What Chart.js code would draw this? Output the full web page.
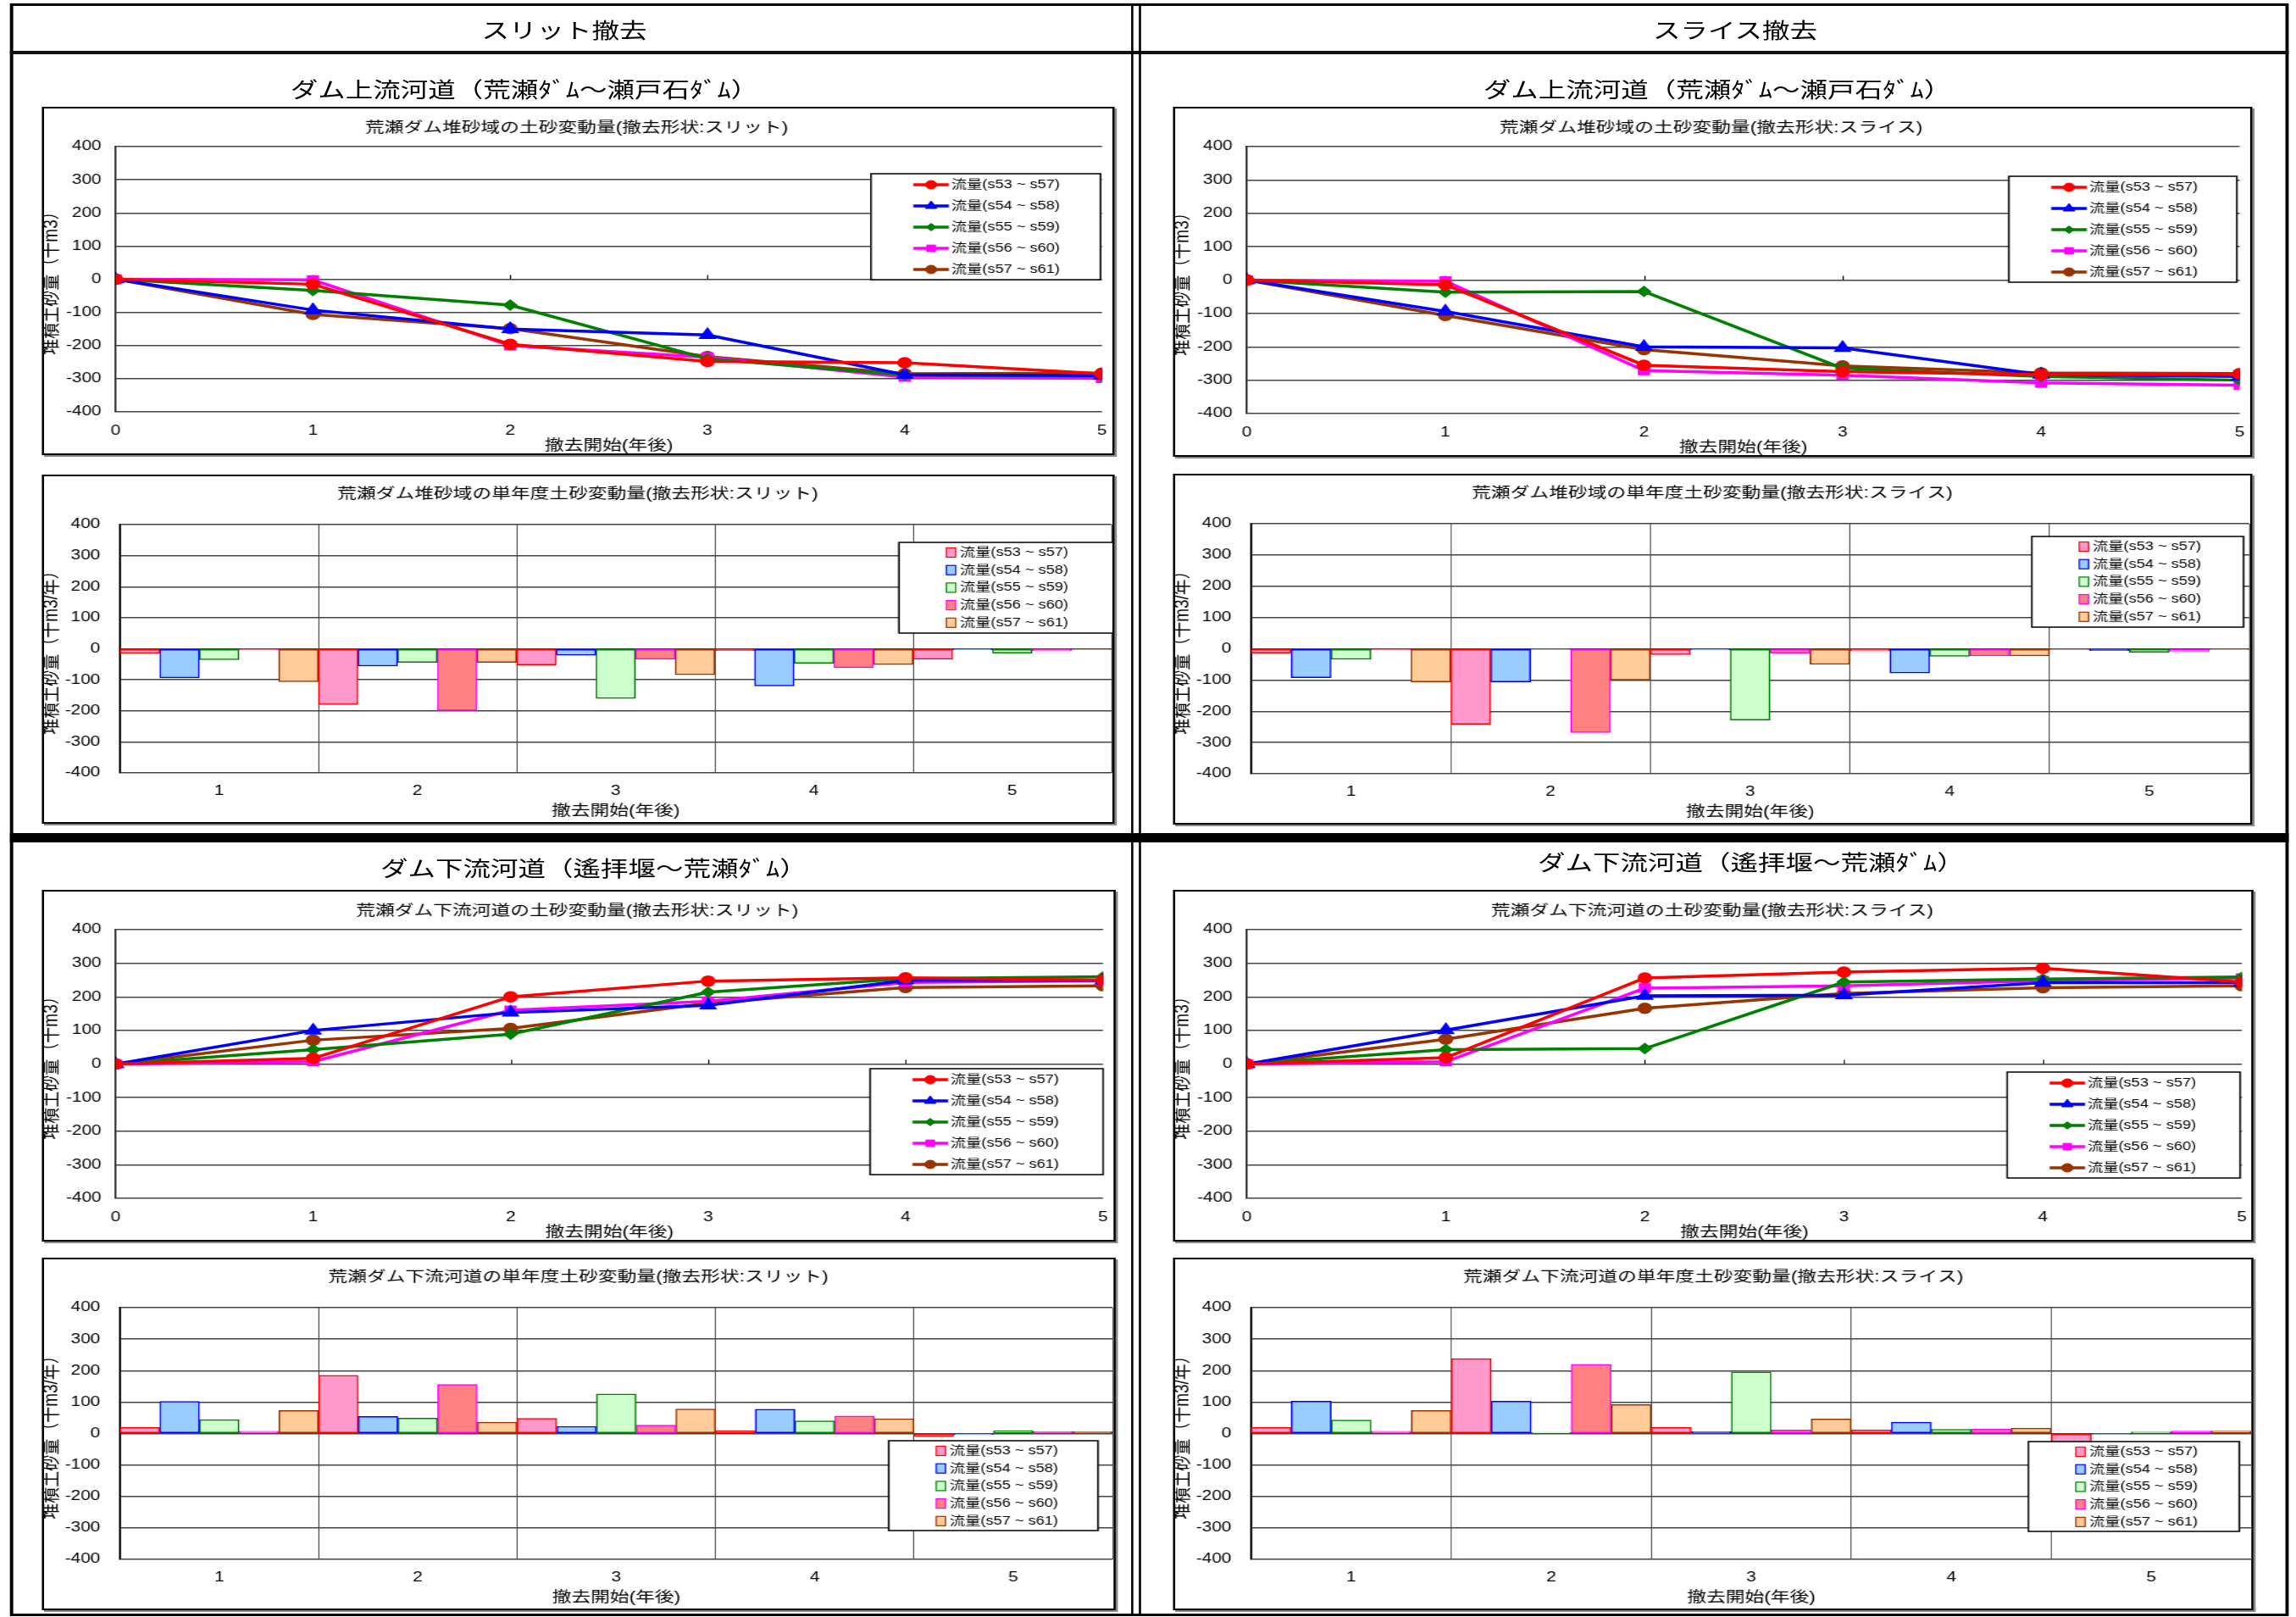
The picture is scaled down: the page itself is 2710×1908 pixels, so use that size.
<!DOCTYPE html>
<html lang="ja">
<head>
<meta charset="utf-8">
<title>荒瀬ダム撤去 土砂変動量</title>
<script src="https://cdn.jsdelivr.net/npm/chart.js@4.4.1/dist/chart.umd.min.js"></script>
<style>
html, body { margin: 0; padding: 0; background: #fff; }
body { width: 2710px; height: 1908px; overflow: hidden; position: relative; }
#page { position: absolute; left: 0; top: 0; height: 1908px; transform-origin: 0 0;
        font-family: 'Noto Sans CJK JP', sans-serif; color: #000; }
canvas { display: block; }
</style>
</head>
<body>
<div id="page"></div>
<script>
// ---- data -------------------------------------------------------------
const seriesLabels = ['流量(s53 ~ s57)', '流量(s54 ~ s58)', '流量(s55 ~ s59)', '流量(s56 ~ s60)', '流量(s57 ~ s61)'];
const lineYears = [0, 1, 2, 3, 4, 5];
const barYears = ['1', '2', '3', '4', '5'];
const yMin = -400, yMax = 400, yStep = 100;

// 荒瀬ダム堆砂域 累計 (スリット)
const upSlitCum = [
  [0, -15, -196, -248, -252, -285],
  [0, -93, -150, -168, -288, -291],
  [0, -34, -78, -240, -289, -292],
  [0, -2, -200, -235, -295, -299],
  [0, -106, -149, -233, -285, -283]
];
// 荒瀬ダム堆砂域 単年度 (スリット)
const upSlitYear = [
  [-15, -180, -52, -6, -34],
  [-94, -56, -21, -120, -3],
  [-35, -44, -160, -47, -14],
  [-3, -199, -34, -61, -7],
  [-106, -44, -84, -51, -2]
];
// 荒瀬ダム堆砂域 累計 (スライス)
const upSliceCum = [
  [0, -14, -255, -274, -283, -281],
  [0, -94, -200, -203, -283, -289],
  [0, -36, -34, -264, -289, -300],
  [0, -3, -271, -285, -308, -315],
  [0, -106, -208, -257, -278, -280]
];
// 荒瀬ダム堆砂域 単年度 (スライス)
const upSliceYear = [
  [-14, -242, -19, -7, -1],
  [-93, -106, -4, -78, -6],
  [-34, -1, -228, -24, -11],
  [-4, -268, -14, -23, -8],
  [-106, -100, -50, -23, -1]
];
// 下流河道 累計 (スリット)
const downSlitCum = [
  [0, 17, 200, 247, 257, 250],
  [0, 100, 153, 175, 249, 249],
  [0, 43, 89, 214, 254, 260],
  [0, 7, 160, 187, 243, 248],
  [0, 71, 106, 181, 228, 233]
];
// 下流河道 単年度 (スリット)
const downSlitYear = [
  [19, 185, 48, 9, -9],
  [102, 54, 23, 77, -4],
  [44, 49, 126, 40, 9],
  [7, 156, 27, 56, 6],
  [73, 36, 78, 47, 6]
];
// 下流河道 累計 (スライス)
const downSliceCum = [
  [0, 19, 256, 274, 285, 244],
  [0, 101, 203, 205, 242, 242],
  [0, 43, 46, 244, 253, 259],
  [0, 7, 226, 233, 248, 256],
  [0, 74, 166, 210, 227, 233]
];
// 下流河道 単年度 (スライス)
const downSliceYear = [
  [19, 238, 19, 12, -41],
  [103, 103, 6, 36, -1],
  [43, 4, 196, 13, 5],
  [7, 220, 11, 14, 8],
  [73, 92, 46, 17, 8]
];

// ---- styles -----------------------------------------------------------
const lineColors = ['#FF0000', '#0000FF', '#008000', '#FF00FF', '#993300'];
const pointStyles = ['circle', 'triangle', 'rectRot', 'rect', 'circle'];
const pointRadii = [5, 6, 4.5, 5.5, 5];
const barFill = ['#FF99CC', '#99CCFF', '#CCFFCC', '#FF8080', '#FFCC99'];
const barEdge = ['#FF0000', '#0000FF', '#008000', '#FF00FF', '#993300'];

const FONT = "'Liberation Sans', 'Noto Sans CJK JP', sans-serif";
const STRETCH = 1.3;   // the sheet is laid out narrow and widened horizontally

Chart.defaults.font.family = FONT;
Chart.defaults.color = '#000';

// ---- page scaffolding --------------------------------------------------
const page = document.getElementById('page');
page.style.width = (2710 / STRETCH) + 'px';
page.style.transform = `scaleX(${STRETCH})`;

function place(x, y, w, h, css) {
  const d = document.createElement('div');
  d.style.cssText = `position:absolute;left:${x / STRETCH}px;top:${y}px;width:${w / STRETCH}px;height:${h}px;` + (css || '');
  page.appendChild(d);
  return d;
}
function heading(text, cx, cy, size) {
  const d = document.createElement('div');
  const w = 1200;
  d.style.cssText = `position:absolute;text-align:center;white-space:nowrap;left:${cx / STRETCH - w / 2}px;` +
    `top:${cy - size * 0.7}px;width:${w}px;height:${size * 1.4}px;line-height:${size * 1.4}px;font-size:${size}px;`;
  d.textContent = text;
  page.appendChild(d);
}
function chartFrame(x, y, w, h) {
  const f = place(x, y, w, h, 'border:2px solid #000;box-sizing:border-box;background:#fff;box-shadow:2px 2px 0 #888;overflow:hidden;');
  const c = document.createElement('canvas');
  const cw = Math.round(w / STRETCH) - 4, ch = h - 4;
  c.width = cw; c.height = ch;
  c.style.width = cw + 'px'; c.style.height = ch + 'px';
  f.appendChild(c);
  return c;
}

// outer frame and dividers
place(12, 4, 2690, 1903, 'border:3px solid #000;box-sizing:border-box;');
place(12, 60, 2690, 4, 'background:#111;');
place(1335, 4, 3, 1903, 'background:#000;');
place(1344, 4, 3, 1903, 'background:#000;');
place(12, 983, 2690, 11, 'background:#000;');

heading('スリット撤去', 666, 34, 25);
heading('スライス撤去', 2048, 34, 25);
heading('ダム上流河道（荒瀬ﾀﾞﾑ～瀬戸石ﾀﾞﾑ）', 619, 104, 25);
heading('ダム上流河道（荒瀬ﾀﾞﾑ～瀬戸石ﾀﾞﾑ）', 2027, 104, 25);
heading('ダム下流河道（遙拝堰～荒瀬ﾀﾞﾑ）', 701, 1023, 25);
heading('ダム下流河道（遙拝堰～荒瀬ﾀﾞﾑ）', 2067, 1016, 25);

// ---- plugins -----------------------------------------------------------
// boxed legend drawn inside the plot
const boxLegend = {
  id: 'boxLegend',
  afterDraw(chart, args, o) {
    if (!o || o.w === undefined) return;
    const ctx = chart.ctx, k = 1 / STRETCH;
    const bx = o.x * k, by = o.y, bw = o.w * k, bh = o.h;
    ctx.save();
    ctx.fillStyle = '#fff';
    ctx.fillRect(bx, by, bw, bh);
    ctx.strokeStyle = '#000';
    ctx.lineWidth = 1.5;
    ctx.strokeRect(bx, by, bw, bh);
    ctx.font = `14px ${FONT}`;
    ctx.textBaseline = 'middle';
    ctx.textAlign = 'left';
    chart.data.datasets.forEach((ds, i) => {
      const cy = by + o.first + i * o.row;
      if (o.kind === 'line') {
        const x0 = bx + 50 * k, x1 = bx + 92 * k;
        ctx.strokeStyle = ds.borderColor;
        ctx.lineWidth = ds.borderWidth;
        ctx.beginPath(); ctx.moveTo(x0, cy); ctx.lineTo(x1, cy); ctx.stroke();
        ctx.fillStyle = ds.pointBackgroundColor;
        ctx.strokeStyle = ds.pointBorderColor;
        ctx.lineWidth = 1;
        Chart.helpers.drawPoint(ctx, { pointStyle: ds.pointStyle, radius: ds.pointRadius, borderWidth: 1, rotation: 0 }, (x0 + x1) / 2, cy);
        ctx.fillStyle = '#000';
        ctx.fillText(ds.label, bx + 95 * k, cy);
      } else {
        const sx = bx + 56 * k, sw = 11 * k;
        ctx.fillStyle = ds.backgroundColor;
        ctx.fillRect(sx, cy - 5.5, sw, 11);
        ctx.strokeStyle = ds.borderColor;
        ctx.lineWidth = 1.2;
        ctx.strokeRect(sx, cy - 5.5, sw, 11);
        ctx.fillStyle = '#000';
        ctx.fillText(ds.label, bx + 72 * k, cy);
      }
    });
    ctx.restore();
  }
};

// small tick marks where the category axis crosses at zero
const zeroTicks = {
  id: 'zeroTicks',
  beforeDatasetsDraw(chart) {
    const { ctx, scales: { x, y } } = chart;
    const y0 = y.getPixelForValue(0);
    ctx.save();
    ctx.strokeStyle = '#000';
    ctx.lineWidth = 1;
    x.ticks.forEach(t => {
      if (t.value <= x.min || t.value >= x.max) return;
      const px = Math.round(x.getPixelForValue(t.value)) + 0.5;
      ctx.beginPath(); ctx.moveTo(px, y0 - 5); ctx.lineTo(px, y0); ctx.stroke();
    });
    ctx.restore();
  }
};

function yScale(titleText, width, pad) {
  return {
    min: yMin, max: yMax,
    ticks: { stepSize: yStep, font: { size: 16 }, padding: pad, color: '#000' },
    grid: { color: '#444', lineWidth: 1.5, drawTicks: false },
    border: { display: true, color: '#000', width: 1.5 },
    title: { display: true, text: titleText, font: { size: 19 }, color: '#000', padding: { top: -5, bottom: 0 } },
    afterFit: s => { s.width = width; }
  };
}

// x scale whose side padding does not eat into the plot width
function fitX(height) {
  return s => { s.height = height; s.paddingLeft = 0; s.paddingRight = 0; };
}

function makeLine(canvas, values, title, lg) {
  return new Chart(canvas, {
    type: 'line',
    data: {
      datasets: values.map((v, i) => ({
        label: seriesLabels[i],
        data: lineYears.map((yr, k) => ({ x: yr, y: v[k] })),
        borderColor: lineColors[i],
        backgroundColor: lineColors[i],
        pointBackgroundColor: lineColors[i],
        pointBorderColor: lineColors[i],
        pointStyle: pointStyles[i],
        pointRadius: pointRadii[i],
        borderWidth: 3.5,
        tension: 0,
        fill: false
      }))
    },
    options: {
      responsive: false,
      animation: false,
      layout: { padding: { left: 0, right: 3, top: 0, bottom: 0 } },
      plugins: {
        legend: { display: false },
        tooltip: { enabled: false },
        title: { display: true, text: title, color: '#000', font: { size: 17.5, weight: 'normal' }, padding: { top: 13, bottom: 11 } },
        boxLegend: Object.assign({ kind: 'line', first: 13, row: 25, w: 272, h: 125 }, lg)
      },
      scales: {
        x: {
          type: 'linear', min: 0, max: 5,
          ticks: { stepSize: 1, font: { size: 16 }, padding: 13, color: '#000' },
          grid: { display: false, drawTicks: false },
          border: { display: false },
          title: { display: true, text: '撤去開始(年後)', font: { size: 17.5 }, color: '#000', padding: { top: 0, bottom: -2 } },
          afterFit: fitX(49)
        },
        y: yScale('堆積土砂量（千m3）', 65, 13)
      }
    },
    plugins: [zeroTicks, boxLegend]
  });
}

function makeBar(canvas, values, title, lg) {
  return new Chart(canvas, {
    type: 'bar',
    data: {
      labels: barYears,
      datasets: values.map((v, i) => ({
        label: seriesLabels[i],
        data: v,
        backgroundColor: barFill[i],
        borderColor: barEdge[i],
        borderWidth: 1.5,
        borderSkipped: false,
        categoryPercentage: 1,
        barPercentage: 1
      }))
    },
    options: {
      responsive: false,
      animation: false,
      layout: { padding: { left: 0, right: 1, top: 0, bottom: 0 } },
      plugins: {
        legend: { display: false },
        tooltip: { enabled: false },
        title: { display: true, text: title, color: '#000', font: { size: 17.5, weight: 'normal' }, padding: { top: 11, bottom: 25 } },
        boxLegend: Object.assign({ kind: 'bar', first: 12, row: 20.7, w: 252, h: 107 }, lg)
      },
      scales: {
        x: {
          ticks: { font: { size: 16 }, padding: 12, color: '#000' },
          grid: { display: true, offset: true, color: '#555', lineWidth: 1, drawTicks: false },
          border: { display: false },
          title: { display: true, text: '撤去開始(年後)', font: { size: 17.5 }, color: '#000', padding: { top: 0, bottom: 2 } },
          afterFit: fitX(58)
        },
        y: yScale('堆積土砂量（千m3/年）', 69, 18)
      }
    },
    plugins: [boxLegend]
  });
}

// ---- the eight panels --------------------------------------------------
makeLine(chartFrame(49, 126, 1266, 411), upSlitCum, '荒瀬ダム堆砂域の土砂変動量(撤去形状:スリット)', { x: 976, y: 77, w: 271 });
makeBar(chartFrame(49, 560, 1266, 412), upSlitYear, '荒瀬ダム堆砂域の単年度土砂変動量(撤去形状:スリット)', { x: 1009, y: 78, w: 253 });
makeLine(chartFrame(1384, 126, 1274, 413), upSliceCum, '荒瀬ダム堆砂域の土砂変動量(撤去形状:スライス)', { x: 984, y: 80, w: 269 });
makeBar(chartFrame(1384, 559, 1274, 414), upSliceYear, '荒瀬ダム堆砂域の単年度土砂変動量(撤去形状:スライス)', { x: 1011, y: 72, w: 250 });
makeLine(chartFrame(49, 1050, 1268, 415), downSlitCum, '荒瀬ダム下流河道の土砂変動量(撤去形状:スリット)', { x: 975, y: 209, w: 275 });
makeBar(chartFrame(49, 1484, 1268, 416), downSlitYear, '荒瀬ダム下流河道の単年度土砂変動量(撤去形状:スリット)', { x: 997, y: 214, w: 247, h: 106 });
makeLine(chartFrame(1384, 1050, 1276, 415), downSliceCum, '荒瀬ダム下流河道の土砂変動量(撤去形状:スライス)', { x: 982, y: 213, w: 275 });
makeBar(chartFrame(1384, 1484, 1276, 416), downSliceYear, '荒瀬ダム下流河道の単年度土砂変動量(撤去形状:スライス)', { x: 1007, y: 215, w: 249, h: 106 });
</script>
</body>
</html>
